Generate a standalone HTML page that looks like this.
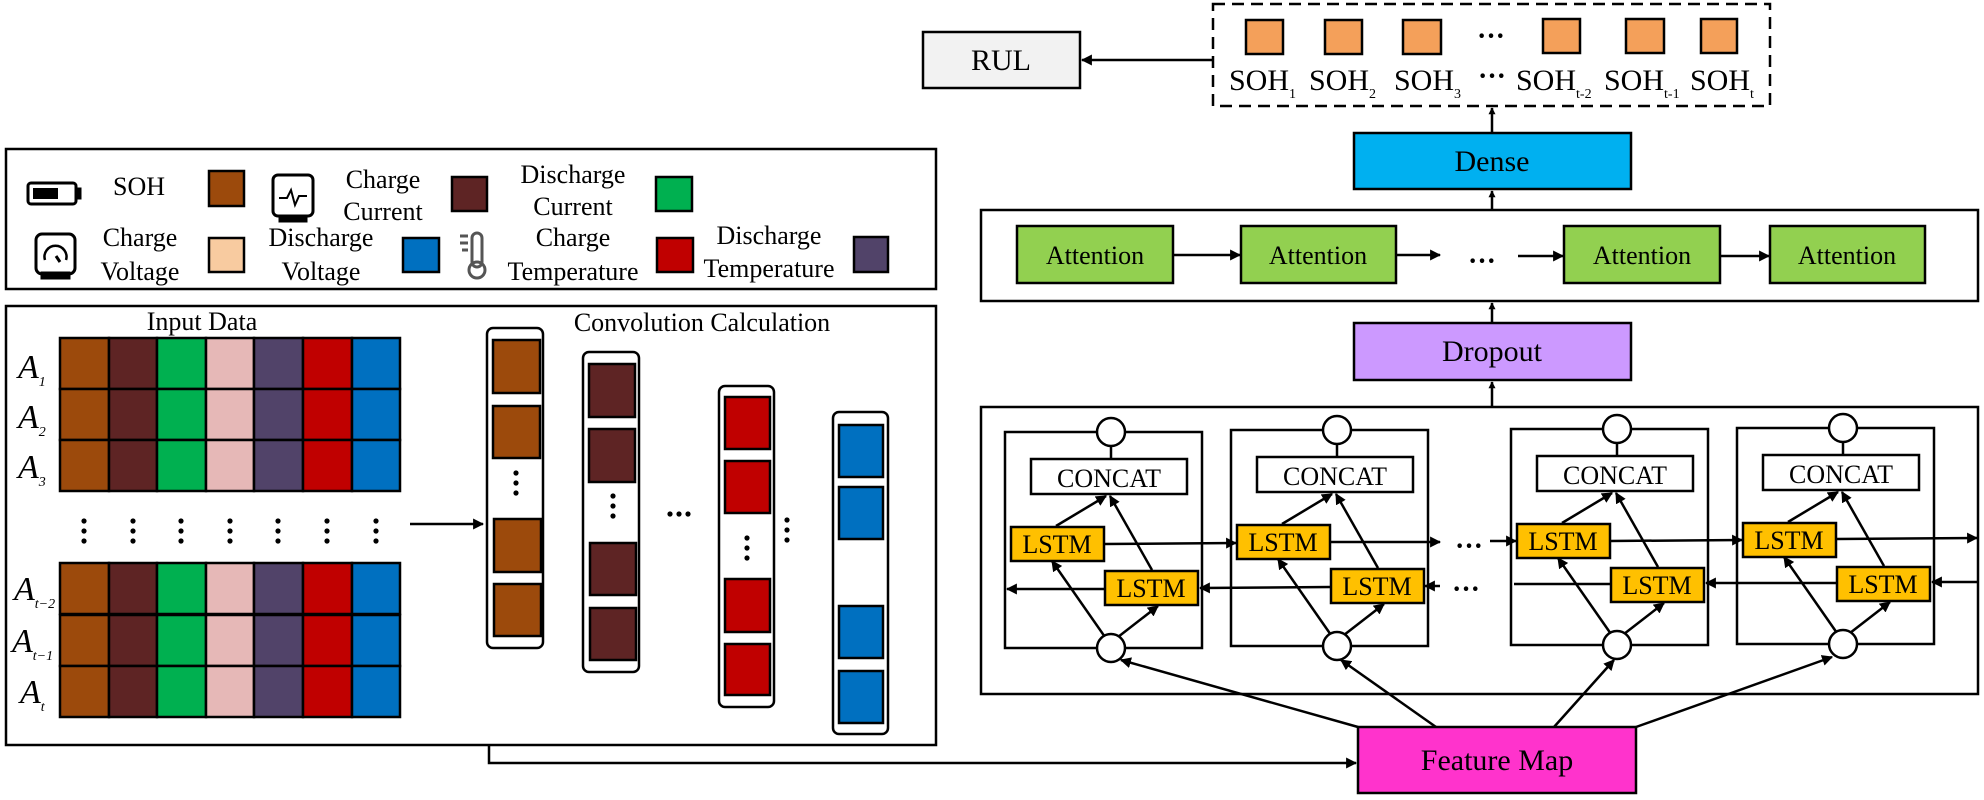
<!DOCTYPE html>
<html><head><meta charset="utf-8"><style>
html,body{margin:0;padding:0;background:#fff;}
svg{display:block;}
text{font-family:"Liberation Serif",serif;fill:#000;}
</style></head><body>
<svg width="1984" height="800" viewBox="0 0 1984 800" xmlns="http://www.w3.org/2000/svg">
<defs>
<marker id="a" viewBox="0 0 10 10" refX="9" refY="5" markerWidth="7" markerHeight="7" orient="auto" markerUnits="userSpaceOnUse"><path d="M0,0 L10,5 L0,10 z" fill="#000"/></marker>
<marker id="b" viewBox="0 0 10 10" refX="9" refY="5" markerWidth="11" markerHeight="11" orient="auto" markerUnits="userSpaceOnUse"><path d="M0,0 L10,5 L0,10 z" fill="#000"/></marker>
</defs>
<g stroke="#000" stroke-width="2.5" fill="none">
<rect x="923" y="32" width="157" height="56" fill="#f2f2f2"/>
<rect x="1213" y="4" width="557" height="102" stroke-dasharray="12,7"/>
<line x1="1213" y1="60" x2="1082" y2="60" marker-end="url(#b)"/>
<rect x="1354" y="133" width="277" height="56" fill="#00b0f0"/>
<line x1="1492" y1="133" x2="1492" y2="108" marker-end="url(#a)"/>
<rect x="981" y="210" width="997" height="91"/>
<line x1="1492" y1="210" x2="1492" y2="191" marker-end="url(#a)"/>
<rect x="1017" y="226" width="156" height="57" fill="#92d050"/>
<rect x="1241" y="226" width="155" height="57" fill="#92d050"/>
<rect x="1564" y="226" width="156" height="57" fill="#92d050"/>
<rect x="1770" y="226" width="155" height="57" fill="#92d050"/>
<line x1="1173" y1="255" x2="1240" y2="255" marker-end="url(#b)"/>
<line x1="1396" y1="255" x2="1440" y2="255" marker-end="url(#b)"/>
<line x1="1518" y1="256" x2="1563" y2="256" marker-end="url(#b)"/>
<line x1="1720" y1="256" x2="1769" y2="256" marker-end="url(#b)"/>
<rect x="1354" y="323" width="277" height="57" fill="#cc99ff"/>
<line x1="1492" y1="323" x2="1492" y2="303" marker-end="url(#a)"/>
<rect x="981" y="407" width="997" height="287"/>
<line x1="1492" y1="407" x2="1492" y2="382" marker-end="url(#a)"/>
<g id="c1">
<rect x="1005" y="432" width="197" height="216"/>
<line x1="1111" y1="446" x2="1111" y2="461"/>
<rect x="1031" y="459" width="156" height="35" fill="#fff"/>
<line x1="1056" y1="526" x2="1106" y2="496" marker-end="url(#b)"/>
<line x1="1152" y1="570" x2="1110" y2="496" marker-end="url(#b)"/>
<line x1="1105" y1="637" x2="1052" y2="561" marker-end="url(#b)"/>
<line x1="1118" y1="637" x2="1158" y2="606" marker-end="url(#b)"/>
<rect x="1011" y="527" width="93" height="34" fill="#ffc000"/>
<rect x="1105" y="571" width="93" height="34" fill="#ffc000"/>
<circle cx="1111" cy="432" r="14" fill="#fff"/>
<circle cx="1111" cy="648" r="14" fill="#fff"/>
</g>
<use href="#c1" x="226" y="-2"/>
<use href="#c1" x="506" y="-3"/>
<use href="#c1" x="732" y="-4"/>
<line x1="1104" y1="544" x2="1236" y2="543" marker-end="url(#b)"/>
<line x1="1330" y1="542" x2="1440" y2="542" marker-end="url(#b)"/>
<line x1="1490" y1="541" x2="1516" y2="541" marker-end="url(#b)"/>
<line x1="1610" y1="541" x2="1742" y2="540" marker-end="url(#b)"/>
<line x1="1836" y1="539" x2="1977" y2="538" marker-end="url(#b)"/>
<line x1="1978" y1="582" x2="1932" y2="582" marker-end="url(#b)"/>
<line x1="1837" y1="583" x2="1706" y2="583" marker-end="url(#b)"/>
<line x1="1611" y1="584" x2="1514" y2="584"/>
<line x1="1440" y1="586" x2="1425" y2="586" marker-end="url(#b)"/>
<line x1="1331" y1="587" x2="1200" y2="588" marker-end="url(#b)"/>
<line x1="1105" y1="589" x2="1007" y2="589" marker-end="url(#b)"/>
<rect x="1358" y="727" width="278" height="66" fill="#ff33cc"/>
<line x1="1358" y1="727" x2="1121" y2="660" marker-end="url(#b)"/>
<line x1="1436" y1="727" x2="1341" y2="660" marker-end="url(#b)"/>
<line x1="1554" y1="727" x2="1614" y2="660" marker-end="url(#b)"/>
<line x1="1636" y1="727" x2="1832" y2="657" marker-end="url(#b)"/>
<polyline points="489,746 489,763 1356,763" marker-end="url(#b)"/>
<rect x="6" y="149" width="930" height="140"/>
<rect x="6" y="306" width="930" height="439"/>
<line x1="410" y1="524" x2="483" y2="524" marker-end="url(#b)"/>
</g>
<g stroke="#000" stroke-width="2.5" fill="#f4a05a">
<rect x="1246" y="20" width="37" height="34"/><rect x="1325" y="20" width="37" height="34"/><rect x="1403" y="20" width="38" height="34"/>
<rect x="1543" y="19" width="37" height="34"/><rect x="1626" y="19" width="38" height="34"/><rect x="1701" y="19" width="36" height="34"/>
</g>
<g font-size="30" text-anchor="middle">
<text x="1001" y="70">RUL</text>
<text x="1492" y="171">Dense</text>
<text x="1492" y="361">Dropout</text>
<text x="1497" y="770">Feature Map</text>
</g>
<g font-size="30">
<text x="1229" y="90">SOH<tspan font-size="14" dy="8">1</tspan></text>
<text x="1309" y="90">SOH<tspan font-size="14" dy="8">2</tspan></text>
<text x="1394" y="90">SOH<tspan font-size="14" dy="8">3</tspan></text>
<text x="1516" y="90">SOH<tspan font-size="14" dy="8">t-2</tspan></text>
<text x="1604" y="90">SOH<tspan font-size="14" dy="8">t-1</tspan></text>
<text x="1690" y="90">SOH<tspan font-size="14" dy="8">t</tspan></text>
</g>
<g font-size="28" font-weight="bold" text-anchor="middle">
<text x="1491" y="45">···</text><text x="1492" y="85">···</text>
<text x="1482" y="270">···</text><text x="1469" y="555">···</text><text x="1466" y="598">···</text>
</g>
<g font-size="26" text-anchor="middle">
<text x="1095" y="264">Attention</text><text x="1318" y="264">Attention</text>
<text x="1642" y="264">Attention</text><text x="1847" y="264">Attention</text>
<text x="1109" y="487">CONCAT</text><text x="1335" y="485">CONCAT</text>
<text x="1615" y="484">CONCAT</text><text x="1841" y="483">CONCAT</text>
<text x="1057" y="553">LSTM</text><text x="1151" y="597">LSTM</text>
<text x="1283" y="551">LSTM</text><text x="1377" y="595">LSTM</text>
<text x="1563" y="550">LSTM</text><text x="1657" y="594">LSTM</text>
<text x="1789" y="549">LSTM</text><text x="1883" y="593">LSTM</text>
</g>
<g stroke="#000" stroke-width="2.5">
<rect x="209" y="171" width="35" height="35" fill="#9c4a0c"/>
<rect x="452" y="177" width="35" height="34" fill="#5e2424"/>
<rect x="656" y="177" width="36" height="34" fill="#00b050"/>
<rect x="209" y="238" width="35" height="34" fill="#f8cba0"/>
<rect x="403" y="238" width="36" height="34" fill="#0070c0"/>
<rect x="657" y="238" width="36" height="34" fill="#c00000"/>
<rect x="854" y="237" width="34" height="35" fill="#514369"/>
</g>
<g stroke="#000" fill="none" stroke-width="3">
<rect x="28" y="183" width="48" height="21" rx="3"/><rect x="76" y="189" width="4" height="9" fill="#000"/>
<rect x="33" y="188" width="25" height="11" fill="#000" stroke="none"/>
<rect x="273" y="175" width="40" height="41" rx="5"/><rect x="280" y="216" width="26" height="5" fill="#000"/>
<polyline points="279,198 287,198 291,190 295,205 299,196 307,196" stroke-width="2"/>
<rect x="36" y="234" width="39" height="40" rx="6"/><rect x="42" y="273" width="27" height="5" fill="#000"/>
<path d="M45,260 A11,11 0 1 1 66,260" stroke-width="2.5"/><line x1="56" y1="256" x2="60" y2="262" stroke-width="3"/>
<rect x="472" y="233" width="10" height="34" rx="5" stroke="#555" stroke-width="3"/><circle cx="477" cy="270" r="8" stroke="#555"/>
<line x1="460" y1="236" x2="468" y2="236" stroke="#555"/><line x1="460" y1="243" x2="468" y2="243" stroke="#555"/><line x1="462" y1="250" x2="468" y2="250" stroke="#555"/>
</g>
<g font-size="26" text-anchor="middle">
<text x="139" y="195">SOH</text>
<text x="383" y="188">Charge</text><text x="383" y="220">Current</text>
<text x="573" y="183">Discharge</text><text x="573" y="215">Current</text>
<text x="140" y="246">Charge</text><text x="140" y="280">Voltage</text>
<text x="321" y="246">Discharge</text><text x="321" y="280">Voltage</text>
<text x="573" y="246">Charge</text><text x="573" y="280">Temperature</text>
<text x="769" y="244">Discharge</text><text x="769" y="277">Temperature</text>
<text x="202" y="330">Input Data</text>
<text x="702" y="331">Convolution Calculation</text>
</g>
<g stroke="#000" stroke-width="2.5">
<g id="row">
<rect x="60" y="338" width="49" height="51" fill="#9c4a0c"/><rect x="109" y="338" width="48" height="51" fill="#5e2424"/>
<rect x="157" y="338" width="49" height="51" fill="#00b050"/><rect x="206" y="338" width="48" height="51" fill="#e6b8b7"/>
<rect x="254" y="338" width="49" height="51" fill="#514369"/><rect x="303" y="338" width="49" height="51" fill="#c00000"/>
<rect x="352" y="338" width="48" height="51" fill="#0070c0"/>
</g>
<use href="#row" y="51"/><use href="#row" y="102"/>
<use href="#row" y="225"/><use href="#row" y="277"/><use href="#row" y="328"/>
<g fill="#fff"><rect x="487" y="328" width="56" height="320" rx="6"/><rect x="583" y="352" width="56" height="320" rx="6"/>
<rect x="719" y="386" width="55" height="321" rx="6"/><rect x="833" y="412" width="55" height="322" rx="6"/></g>
<g fill="#9c4a0c"><rect x="493" y="340" width="47" height="53"/><rect x="493" y="406" width="47" height="52"/><rect x="494" y="519" width="47" height="53"/><rect x="494" y="584" width="47" height="52"/></g>
<g fill="#5e2424"><rect x="589" y="364" width="46" height="53"/><rect x="589" y="429" width="46" height="53"/><rect x="590" y="543" width="46" height="52"/><rect x="590" y="608" width="46" height="52"/></g>
<g fill="#c00000"><rect x="725" y="397" width="45" height="52"/><rect x="725" y="461" width="45" height="52"/><rect x="725" y="579" width="45" height="53"/><rect x="725" y="644" width="45" height="51"/></g>
<g fill="#0070c0"><rect x="839" y="425" width="44" height="52"/><rect x="839" y="487" width="44" height="52"/><rect x="839" y="606" width="44" height="52"/><rect x="839" y="671" width="44" height="52"/></g>
</g>
<g fill="#000">
<g id="vd"><circle cx="84" cy="521" r="2.6"/><circle cx="84" cy="531" r="2.6"/><circle cx="84" cy="541" r="2.6"/></g>
<use href="#vd" x="49"/><use href="#vd" x="97"/><use href="#vd" x="146"/><use href="#vd" x="194"/><use href="#vd" x="243"/><use href="#vd" x="292"/>
<use href="#vd" x="432" y="-48"/><use href="#vd" x="529" y="-25"/><use href="#vd" x="663" y="17"/><use href="#vd" x="703" y="-1"/>
<circle cx="670" cy="514" r="2.6"/><circle cx="679" cy="514" r="2.6"/><circle cx="688" cy="514" r="2.6"/>
</g>
<g font-size="34" font-style="italic">
<text x="18" y="378">A<tspan font-size="14" dy="8">1</tspan></text>
<text x="18" y="428">A<tspan font-size="14" dy="8">2</tspan></text>
<text x="18" y="478">A<tspan font-size="14" dy="8">3</tspan></text>
<text x="14" y="600">A<tspan font-size="14" dy="8">t−2</tspan></text>
<text x="12" y="652">A<tspan font-size="14" dy="8">t−1</tspan></text>
<text x="20" y="703">A<tspan font-size="14" dy="8">t</tspan></text>
</g>
</svg>
</body></html>
